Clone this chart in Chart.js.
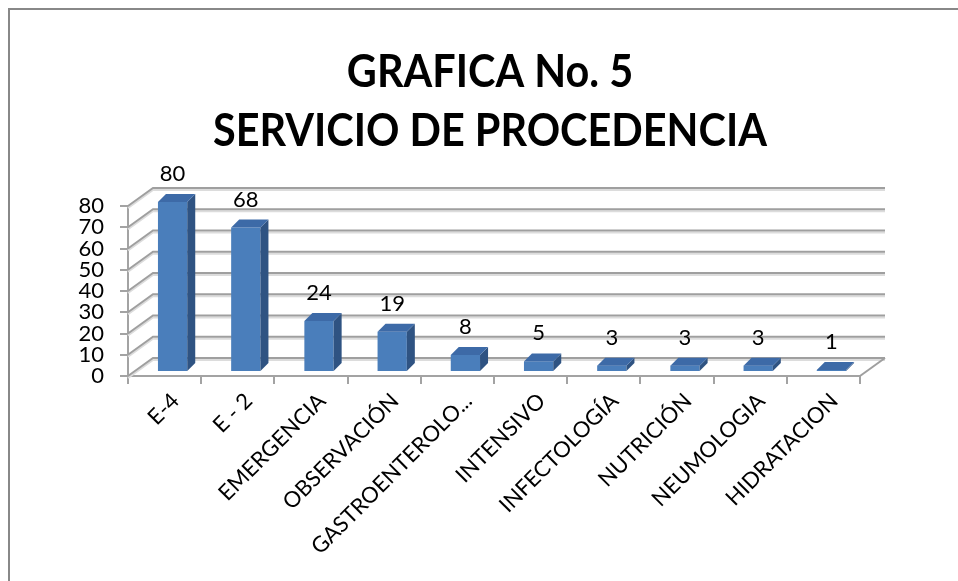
<!DOCTYPE html>
<html><head><meta charset="utf-8">
<script src="https://cdn.jsdelivr.net/npm/chart.js@4"></script>
<style>html,body{margin:0;padding:0;background:#fff}</style>
</head><body>
<canvas id="c" width="958" height="581"></canvas>
<script>
const titleLines = ["GRAFICA No. 5", "SERVICIO DE PROCEDENCIA"];
const categories = ["E-4", "E - 2", "EMERGENCIA", "OBSERVACIÓN", "GASTROENTEROLO...", "INTENSIVO", "INFECTOLOGÍA", "NUTRICIÓN", "NEUMOLOGIA", "HIDRATACION"];
const values = [80, 68, 24, 19, 8, 5, 3, 3, 3, 1];
const yTicks = [0, 10, 20, 30, 40, 50, 60, 70, 80];

const ROOM = {dx: 25, dy: -18};
const SHIFT = {dx: 8, dy: -4};
const DEPTH = {dx: 8, dy: -8};

const frame = {
  id: 'frame',
  beforeDraw(chart) {
    const c = chart.ctx;
    c.save();
    c.strokeStyle = '#888';
    c.lineWidth = 2;
    c.beginPath();
    c.moveTo(9, chart.height);
    c.lineTo(9, 9);
    c.lineTo(chart.width, 9);
    c.stroke();
    c.fillStyle = '#000';
    c.font = 'bold 45px Lato';
    c.textAlign = 'center';
    c.textBaseline = 'middle';
    const cx = 490;
    [72, 131].forEach((ty, i) => {
      c.save();
      c.translate(cx, ty);
      c.scale(0.92, 1);
      c.fillText(titleLines[i], 0, 0);
      c.restore();
    });
    c.restore();
  }
};

const walls = {
  id: 'walls',
  beforeDatasetsDraw(chart) {
    const c = chart.ctx, y = chart.scales.y, a = chart.chartArea;
    c.save();
    const line = (pts, col, w) => {
      c.strokeStyle = col; c.lineWidth = w;
      c.beginPath();
      c.moveTo(pts[0][0], pts[0][1]);
      for (let i = 1; i < pts.length; i++) c.lineTo(pts[i][0], pts[i][1]);
      c.stroke();
    };
    yTicks.forEach(v => {
      const py = y.getPixelForValue(v);
      const pts = [[a.left, py], [a.left + ROOM.dx, py + ROOM.dy], [a.right + ROOM.dx, py + ROOM.dy]];
      line(pts.map(p => [p[0], p[1] + 2]), '#dcdcdc', 2);
      line(pts, '#9f9f9f', 2);
    });
    const p0 = y.getPixelForValue(0);
    line([[a.right, p0], [a.right + ROOM.dx, p0 + ROOM.dy]], '#9f9f9f', 2);
    c.restore();
    c.save();
    c.translate(SHIFT.dx, SHIFT.dy);
  },
  afterDatasetsDraw(chart) {
    const c = chart.ctx;
    const meta = chart.getDatasetMeta(0);
    meta.data.forEach((bar, i) => {
      const p = bar.getProps(['x', 'y', 'base', 'width'], true);
      const l = p.x - p.width / 2, r = p.x + p.width / 2;
      c.fillStyle = '#2f5382';
      c.beginPath();
      c.moveTo(r, p.y); c.lineTo(r + DEPTH.dx, p.y + DEPTH.dy);
      c.lineTo(r + DEPTH.dx, p.base + DEPTH.dy); c.lineTo(r, p.base);
      c.closePath(); c.fill();
      c.fillStyle = '#3d6aa7';
      c.beginPath();
      c.moveTo(l, p.y); c.lineTo(l + DEPTH.dx, p.y + DEPTH.dy);
      c.lineTo(r + DEPTH.dx, p.y + DEPTH.dy); c.lineTo(r, p.y);
      c.closePath(); c.fill();
      c.fillStyle = '#000';
      c.font = '22px Lato';
      c.textAlign = 'center';
      c.textBaseline = 'middle';
      c.fillText(String(values[i]), p.x, p.y - 28);
    });
    c.restore();
  }
};

new Chart(document.getElementById('c'), {
  type: 'bar',
  data: {
    labels: categories,
    datasets: [{
      data: values,
      clip: false,
      backgroundColor: (ctx) => {
        const el = ctx.element;
        if (!el || el.x === undefined) return '#4a7ebb';
        const g = ctx.chart.ctx.createLinearGradient(el.x - el.width / 2, 0, el.x + el.width / 2, 0);
        g.addColorStop(0, '#5a8dd0');
        g.addColorStop(1, '#4577b8');
        return g;
      },
      borderWidth: 0,
      categoryPercentage: 1,
      barPercentage: 0.4
    }]
  },
  options: {
    responsive: false,
    animation: false,
    devicePixelRatio: 1,
    layout: {padding: {left: 0, right: 98, top: 206, bottom: 0}},
    plugins: {
      legend: {display: false},
      tooltip: {enabled: false},
      title: {display: false}
    },
    scales: {
      x: {
        grid: {drawOnChartArea: false, drawTicks: true, tickLength: 8, color: '#a3a3a3', lineWidth: 2, offset: true},
        border: {display: true, color: '#a3a3a3', width: 2},
        ticks: {autoSkip: false, maxRotation: 45, minRotation: 45, color: '#000', font: {family: 'Lato', size: 22}, padding: 4, labelOffset: 11},
        afterFit(s) { s.height = 205; }
      },
      y: {
        min: 0, max: 80,
        afterBuildTicks(s) { s.ticks = yTicks.map(v => ({value: v})); },
        grid: {drawOnChartArea: false, drawTicks: true, tickLength: 8, color: '#a3a3a3', lineWidth: 2},
        border: {display: true, color: '#a3a3a3', width: 2},
        ticks: {autoSkip: false, color: '#000', font: {family: 'Lato', size: 22}, padding: 16},
        afterFit(s) { s.width = 128; }
      }
    }
  },
  plugins: [frame, walls]
});
</script>
</body></html>
